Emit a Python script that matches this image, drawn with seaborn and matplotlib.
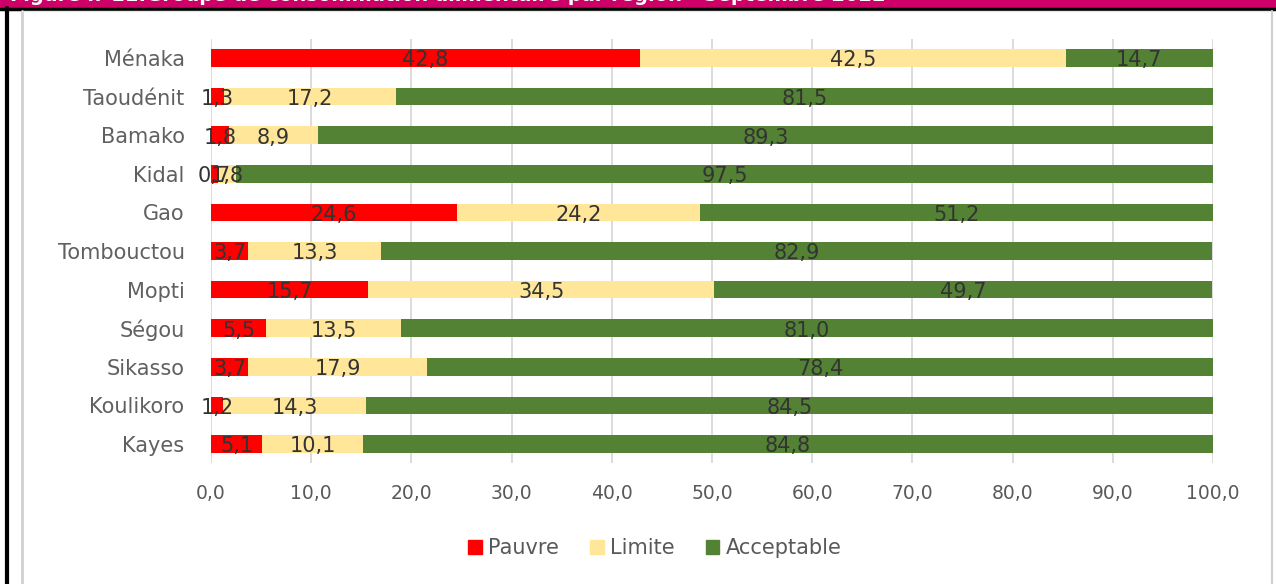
import matplotlib
matplotlib.use("Agg")
import matplotlib.pyplot as plt
import matplotlib.patches as mpatches
from matplotlib.lines import Line2D
import seaborn as sns
import pandas as pd
import numpy as np

regions = ["Ménaka", "Taoudénit", "Bamako", "Kidal", "Gao", "Tombouctou",
           "Mopti", "Ségou", "Sikasso", "Koulikoro", "Kayes"]
pauvre = [42.8, 1.3, 1.8, 0.7, 24.6, 3.7, 15.7, 5.5, 3.7, 1.2, 5.1]
limite = [42.5, 17.2, 8.9, 1.8, 24.2, 13.3, 34.5, 13.5, 17.9, 14.3, 10.1]
acceptable = [14.7, 81.5, 89.3, 97.5, 51.2, 82.9, 49.7, 81.0, 78.4, 84.5, 84.8]
series_names = ["Pauvre", "Limite", "Acceptable"]
colors = ["#FF0000", "#FFE699", "#548235"]
xticks = [0, 10, 20, 30, 40, 50, 60, 70, 80, 90, 100]
title = "Figure n°11:Groupe de consommation alimentaire par région - Septembre 2022"

sns.set_theme(style="white")
plt.rcParams['font.family'] = ['DejaVu Sans']

df = pd.DataFrame({"region": regions, "Pauvre": pauvre, "Limite": limite,
                   "Acceptable": acceptable})
df["c1"] = df["Pauvre"]
df["c2"] = df["Pauvre"] + df["Limite"]
df["c3"] = df["c2"] + df["Acceptable"]

W, H = 1276, 584
fig = plt.figure(figsize=(W / 100, H / 100), dpi=100)
ax = fig.add_axes([211 / W, 1 - 463.3 / H, (1213 - 211) / W, (463.3 - 38.7) / H])

bw = 0.46
for col, c in zip(["c3", "c2", "c1"], [colors[2], colors[1], colors[0]]):
    sns.barplot(data=df, x=col, y="region", order=regions, color=c,
                width=bw, orient="h", ax=ax, saturation=1, zorder=3,
                linewidth=0)

# value labels
for i, r in df.iterrows():
    starts = [0, r["c1"], r["c2"]]
    vals = [r["Pauvre"], r["Limite"], r["Acceptable"]]
    for s, v in zip(starts, vals):
        ax.text(s + v / 2, i + 0.06, f"{v:.1f}".replace(".", ","),
                ha="center", va="center", fontsize=15, color="#333333",
                zorder=5)

ax.set_xlim(0, 100)
ax.set_ylim(len(regions) - 0.5, -0.5)
ax.set_xticks(xticks)
ax.set_xticklabels([f"{t:.1f}".replace(".", ",") for t in xticks],
                   fontsize=13.5, color="#595959")
ax.tick_params(axis="x", length=0, pad=15)
ax.tick_params(axis="y", length=0, pad=19)
for lab in ax.get_yticklabels():
    lab.set_fontsize(15)
    lab.set_color("#606060")
ax.set_xlabel("")
ax.set_ylabel("")
ax.grid(axis="x", color="#d9d9d9", linewidth=1.3, zorder=0)
ax.grid(axis="y", visible=False)
for sp in ax.spines.values():
    sp.set_visible(False)

# legend
handles = [mpatches.Patch(color=c, label=n) for c, n in zip(colors, series_names)]
fig.legend(handles=handles, loc="center", bbox_to_anchor=(655 / W, 1 - 548 / H),
           ncol=3, frameon=False, fontsize=15, handlelength=0.65,
           handleheight=0.65, handletextpad=0.3, columnspacing=1.5,
           labelcolor="#595959")

# frame decorations
fig.add_artist(mpatches.Rectangle((0, 1 - 7 / H), 1, 7 / H, transform=fig.transFigure,
                                  color="#CC0066", zorder=10))
fig.text(10 / W, 1 + 5 / H, title, color="white", fontsize=14, fontweight="bold",
         ha="left", va="center", zorder=11, clip_on=False)
fig.add_artist(Line2D([0, 1], [1 - 8.5 / H, 1 - 8.5 / H], transform=fig.transFigure,
                      color="black", linewidth=2.5, zorder=12))
fig.add_artist(Line2D([7 / W, 7 / W], [0, 1 - 8 / H], transform=fig.transFigure,
                      color="black", linewidth=3, zorder=12))
fig.add_artist(Line2D([22 / W, 22 / W], [0, 1 - 11 / H], transform=fig.transFigure,
                      color="#d0d0d0", linewidth=2, zorder=12))
fig.add_artist(Line2D([22 / W, 1272 / W], [1 - 11 / H, 1 - 11 / H], transform=fig.transFigure,
                      color="#e6e6e6", linewidth=1, zorder=12))
fig.add_artist(Line2D([1272 / W, 1272 / W], [0, 1 - 11 / H], transform=fig.transFigure,
                      color="#d0d0d0", linewidth=1.5, zorder=12))

fig.savefig("out.png", dpi=100)
